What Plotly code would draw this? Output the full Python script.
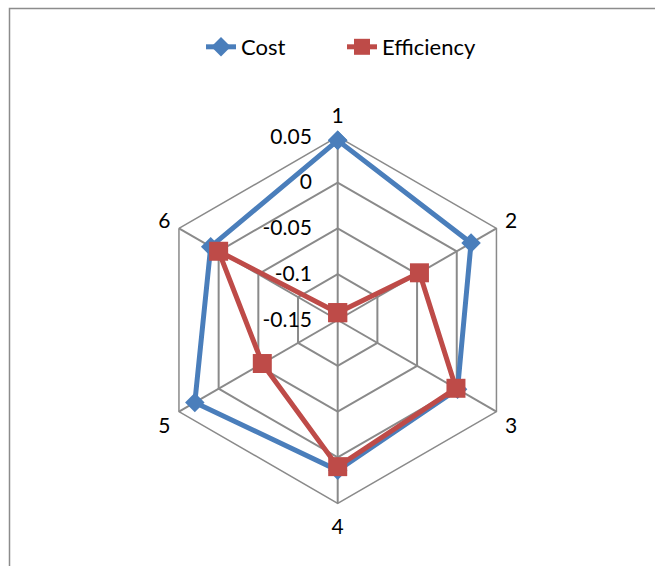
import plotly.graph_objects as go

# Axis categories and series values
categories = ["1", "2", "3", "4", "5", "6"]
cost = [0.046, 0.018, 0.001, 0.014, 0.030, 0.010]
efficiency = [-0.142, -0.047, -0.001, 0.010, -0.055, 0.000]
radial_ticks = [-0.15, -0.1, -0.05, 0, 0.05]
radial_ticktext = ["-0.15", "-0.1", "-0.05", "0", "0.05"]
r_range = [-0.15, 0.05]

FONT = "Lato, 'Liberation Sans', sans-serif"
GRID = "#8a8a8a"
BLUE = "#4A7EBB"
RED = "#BE4B48"


def closed(values):
    return values + values[:1]


fig = go.Figure()

# Hexagonal web: a linear-grid polar subplot carrying an invisible copy of the data
fig.add_trace(go.Scatterpolar(
    r=closed(cost), theta=closed(categories), subplot="polar",
    mode="lines", line=dict(width=0), showlegend=False, hoverinfo="skip",
))

# Series drawn on a transparent overlay subplot sharing the same domain and scale
fig.add_trace(go.Scatterpolar(
    r=closed(cost), theta=closed(categories), name="Cost", subplot="polar2",
    mode="lines+markers",
    line=dict(color=BLUE, width=5),
    marker=dict(symbol="diamond", size=15, color=BLUE),
))
fig.add_trace(go.Scatterpolar(
    r=closed(efficiency), theta=closed(categories), name="Efficiency", subplot="polar2",
    mode="lines+markers",
    line=dict(color=RED, width=5),
    marker=dict(symbol="square", size=19, color=RED),
))

W, H = 655, 566
cx, cy, R = 337.7, 320.0, 183.3
domain = dict(x=[(cx - R) / W, (cx + R) / W],
              y=[(H - cy - R) / H, (H - cy + R) / H])

fig.update_layout(
    width=W, height=H,
    margin=dict(l=0, r=0, t=0, b=0),
    paper_bgcolor="white",
    font=dict(family=FONT, size=21, color="black"),
    showlegend=True,
    legend=dict(
        orientation="h", x=201 / W, xanchor="left",
        y=1 - 47 / H, yanchor="middle",
        entrywidth=96,
        font=dict(family=FONT, size=22),
        bgcolor="rgba(0,0,0,0)",
    ),
    polar=dict(
        domain=domain,
        gridshape="linear",
        bgcolor="white",
        radialaxis=dict(
            range=r_range, tickvals=radial_ticks, ticktext=radial_ticktext,
            angle=90, side="counterclockwise", tickangle=90,
            showline=False, ticks="outside", ticklen=18,
            tickcolor="rgba(0,0,0,0)", gridcolor=GRID, gridwidth=1.5,
            tickfont=dict(family=FONT, size=21),
        ),
        angularaxis=dict(
            rotation=90, direction="clockwise", type="category",
            categoryarray=categories,
            showline=True, linecolor=GRID, linewidth=1.5,
            gridcolor=GRID, gridwidth=1.5,
            ticks="outside", ticklen=5, tickcolor="rgba(0,0,0,0)",
            tickfont=dict(family=FONT, size=21),
        ),
    ),
    polar2=dict(
        domain=domain,
        gridshape="circular",
        bgcolor="rgba(0,0,0,0)",
        radialaxis=dict(range=r_range, visible=False, showgrid=False),
        angularaxis=dict(
            rotation=90, direction="clockwise", type="category",
            categoryarray=categories,
            showline=False, showgrid=False, showticklabels=False, ticks="",
        ),
    ),
    shapes=[dict(
        type="rect", xref="paper", yref="paper",
        x0=9.5 / W, x1=1.05, y0=-0.05, y1=1 - 8.5 / H,
        line=dict(color="#8c8c8c", width=1.5), fillcolor="rgba(0,0,0,0)",
    )],
)

fig.write_html("out.html")
